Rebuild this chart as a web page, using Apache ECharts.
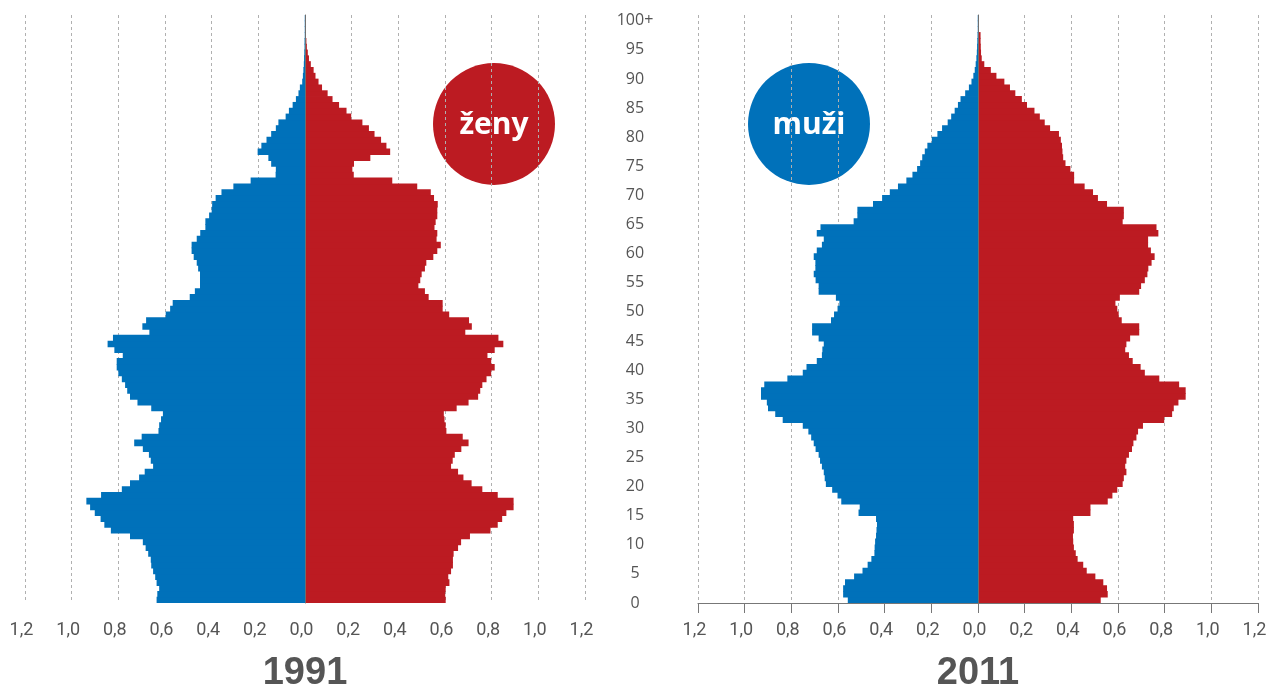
<!DOCTYPE html>
<html>
<head>
<meta charset="utf-8">
<title>Věková struktura 1991 a 2011</title>
<script src="https://cdn.jsdelivr.net/npm/echarts@6/dist/echarts.min.js"></script>
<style>
  html, body { margin: 0; padding: 0; background: #fff; }
  #main { width: 1267px; height: 691px; }
</style>
</head>
<body>
<div id="main"></div>
<script>
// věk 0..100 (100 = 100+)
var ages = [];
for (var i = 0; i <= 100; i++) ages.push(String(i));
var ageTicks = ['0', '5', '10', '15', '20', '25', '30', '35', '40', '45', '50',
  '55', '60', '65', '70', '75', '80', '85', '90', '95', '100+'];
var years = ['1991', '2011'];

// podíl na populaci (%), index = věk
var muzi1991 = [0.636, 0.633, 0.625, 0.636, 0.642, 0.651, 0.659, 0.661, 0.672, 0.683,
  0.695, 0.75, 0.832, 0.86, 0.876, 0.901, 0.921, 0.937, 0.874, 0.785,
  0.75, 0.711, 0.687, 0.651, 0.661, 0.669, 0.695, 0.732, 0.70, 0.628,
  0.625, 0.617, 0.609, 0.659, 0.718, 0.75, 0.762, 0.771, 0.785, 0.80,
  0.807, 0.807, 0.781, 0.817, 0.846, 0.823, 0.667, 0.697, 0.681, 0.597,
  0.578, 0.567, 0.494, 0.472, 0.45, 0.45, 0.45, 0.458, 0.464, 0.477,
  0.486, 0.486, 0.464, 0.449, 0.427, 0.427, 0.411, 0.40, 0.398, 0.383,
  0.358, 0.307, 0.233, 0.126, 0.125, 0.145, 0.157, 0.203, 0.187, 0.165,
  0.145, 0.125, 0.114, 0.083, 0.069, 0.053, 0.039, 0.028, 0.022, 0.012,
  0.009, 0.007, 0.005, 0.004, 0.003, 0.002, 0.002, 0.001, 0.001, 0.001, 0.001];
var zeny1991 = [0.603, 0.601, 0.603, 0.619, 0.614, 0.626, 0.634, 0.634, 0.637, 0.656,
  0.669, 0.707, 0.795, 0.826, 0.845, 0.863, 0.894, 0.894, 0.826, 0.76,
  0.714, 0.679, 0.656, 0.626, 0.633, 0.642, 0.67, 0.701, 0.676, 0.606,
  0.603, 0.598, 0.595, 0.65, 0.701, 0.742, 0.751, 0.76, 0.778, 0.798,
  0.813, 0.798, 0.782, 0.813, 0.85, 0.829, 0.687, 0.715, 0.703, 0.618,
  0.59, 0.59, 0.53, 0.514, 0.486, 0.494, 0.50, 0.514, 0.52, 0.55,
  0.567, 0.582, 0.564, 0.567, 0.555, 0.56, 0.567, 0.567, 0.569, 0.553,
  0.539, 0.481, 0.374, 0.209, 0.203, 0.21, 0.28, 0.365, 0.349, 0.326,
  0.298, 0.274, 0.246, 0.198, 0.178, 0.146, 0.118, 0.097, 0.073, 0.058,
  0.045, 0.037, 0.025, 0.017, 0.012, 0.008, 0.006, 0.004, 0.003, 0.002, 0.002];
var muzi2011 = [0.558, 0.578, 0.578, 0.57, 0.531, 0.495, 0.473, 0.457, 0.444, 0.443,
  0.441, 0.437, 0.435, 0.433, 0.437, 0.512, 0.507, 0.586, 0.602, 0.625,
  0.652, 0.657, 0.661, 0.669, 0.677, 0.683, 0.696, 0.704, 0.715, 0.727,
  0.751, 0.837, 0.869, 0.90, 0.905, 0.93, 0.93, 0.916, 0.817, 0.751,
  0.735, 0.691, 0.669, 0.667, 0.661, 0.683, 0.711, 0.711, 0.63, 0.617,
  0.602, 0.594, 0.609, 0.683, 0.683, 0.696, 0.704, 0.697, 0.697, 0.704,
  0.691, 0.669, 0.661, 0.691, 0.675, 0.533, 0.517, 0.517, 0.45, 0.411,
  0.378, 0.343, 0.307, 0.281, 0.261, 0.248, 0.239, 0.228, 0.217, 0.198,
  0.174, 0.154, 0.13, 0.115, 0.10, 0.086, 0.075, 0.055, 0.039, 0.028,
  0.02, 0.014, 0.01, 0.007, 0.005, 0.004, 0.003, 0.002, 0.001, 0.001, 0.001];
var zeny2011 = [0.526, 0.556, 0.553, 0.537, 0.503, 0.466, 0.451, 0.427, 0.419, 0.411,
  0.408, 0.407, 0.411, 0.411, 0.408, 0.482, 0.482, 0.556, 0.576, 0.597,
  0.62, 0.625, 0.636, 0.631, 0.636, 0.647, 0.66, 0.666, 0.679, 0.686,
  0.707, 0.798, 0.832, 0.839, 0.859, 0.89, 0.89, 0.862, 0.777, 0.715,
  0.697, 0.663, 0.647, 0.631, 0.636, 0.652, 0.691, 0.691, 0.616, 0.603,
  0.597, 0.589, 0.608, 0.691, 0.699, 0.715, 0.726, 0.73, 0.744, 0.757,
  0.741, 0.729, 0.729, 0.773, 0.765, 0.62, 0.625, 0.625, 0.553, 0.514,
  0.493, 0.457, 0.412, 0.412, 0.396, 0.375, 0.365, 0.362, 0.36, 0.355,
  0.347, 0.309, 0.286, 0.265, 0.242, 0.21, 0.188, 0.16, 0.137, 0.113,
  0.079, 0.055, 0.027, 0.016, 0.013, 0.012, 0.011, 0.011, 0.003, 0.002, 0.001];

var BLUE = '#0071ba';
var RED = '#bc1b22';
var GREY = '#555';

var chart = echarts.init(document.getElementById('main'));

function xAxisFor(idx) {
  return {
    type: 'value', gridIndex: idx, min: -1.2, max: 1.2, interval: 0.2,
    axisLine: { onZero: false, lineStyle: { color: '#777' } },
    axisTick: { length: 10, lineStyle: { color: '#777' } },
    axisLabel: {
      margin: 18, color: GREY, fontSize: 18, fontFamily: 'Roboto',
      padding: [0, 7, 0, 0],
      formatter: function (v) { return Math.abs(v).toFixed(1).replace('.', ','); }
    },
    splitLine: { lineStyle: { color: '#b0b0b0', type: [3, 3] } }
  };
}

function ageAxis(idx) {
  return {
    type: 'category', gridIndex: idx, data: ages, z: 5,
    axisLine: { onZero: true, lineStyle: { color: '#6e6e6e' } },
    axisTick: { show: false }, axisLabel: { show: false }, splitLine: { show: false }
  };
}

function bars(name, vals, sign, color, axis) {
  return {
    name: name, type: 'bar', xAxisIndex: axis, yAxisIndex: axis,
    stack: 'p' + axis,
    // o něco širší než pásmo (5,8 px), aby mezi sloupci nebyly bílé švy
    barWidth: 6.6,
    data: vals.map(function (v) { return sign * v; }),
    itemStyle: { color: color }
  };
}

var option = {
  animation: false,
  grid: [
    { left: 25, width: 560, top: 15, height: 588, outerBoundsMode: 'none', containLabel: false },
    { left: 698, width: 560, top: 15, height: 588, outerBoundsMode: 'none', containLabel: false }
  ],
  xAxis: [xAxisFor(0), xAxisFor(1)],
  yAxis: [
    ageAxis(0),
    ageAxis(1),
    {
      type: 'value', gridIndex: 1, min: 0, max: 101, interval: 5, position: 'left',
      axisLine: { show: false, onZero: false }, axisTick: { show: false }, splitLine: { show: false },
      axisLabel: {
        margin: 63, align: 'center', color: GREY, fontSize: 16, fontFamily: 'Open Sans',
        formatter: function (v) { return (v % 5 === 0 && v <= 100) ? ageTicks[v / 5] : ''; }
      }
    }
  ],
  series: [
    bars('muži ' + years[0], muzi1991, -1, BLUE, 0),
    bars('ženy ' + years[0], zeny1991, 1, RED, 0),
    bars('muži ' + years[1], muzi2011, -1, BLUE, 1),
    bars('ženy ' + years[1], zeny2011, 1, RED, 1)
  ],
  graphic: [
    { type: 'circle', shape: { cx: 494, cy: 124, r: 61 }, style: { fill: RED } },
    { type: 'text', x: 494, y: 125, style: { text: 'ženy', fill: '#fff', font: 'bold 30px "Open Sans"',
      align: 'center', verticalAlign: 'middle', textAlign: 'center', textVerticalAlign: 'middle' } },
    { type: 'circle', shape: { cx: 809, cy: 124, r: 61 }, style: { fill: BLUE } },
    { type: 'text', x: 809, y: 125, style: { text: 'muži', fill: '#fff', font: 'bold 30px "Open Sans"',
      align: 'center', verticalAlign: 'middle', textAlign: 'center', textVerticalAlign: 'middle' } },
    { type: 'text', x: 305, y: 674, style: { text: years[0], fill: GREY, font: 'bold 38px "Liberation Sans"',
      align: 'center', verticalAlign: 'middle', textAlign: 'center', textVerticalAlign: 'middle' } },
    { type: 'text', x: 978, y: 674, style: { text: years[1], fill: GREY, font: 'bold 38px "Liberation Sans"',
      align: 'center', verticalAlign: 'middle', textAlign: 'center', textVerticalAlign: 'middle' } }
  ]
};

chart.setOption(option);
</script>
</body>
</html>
